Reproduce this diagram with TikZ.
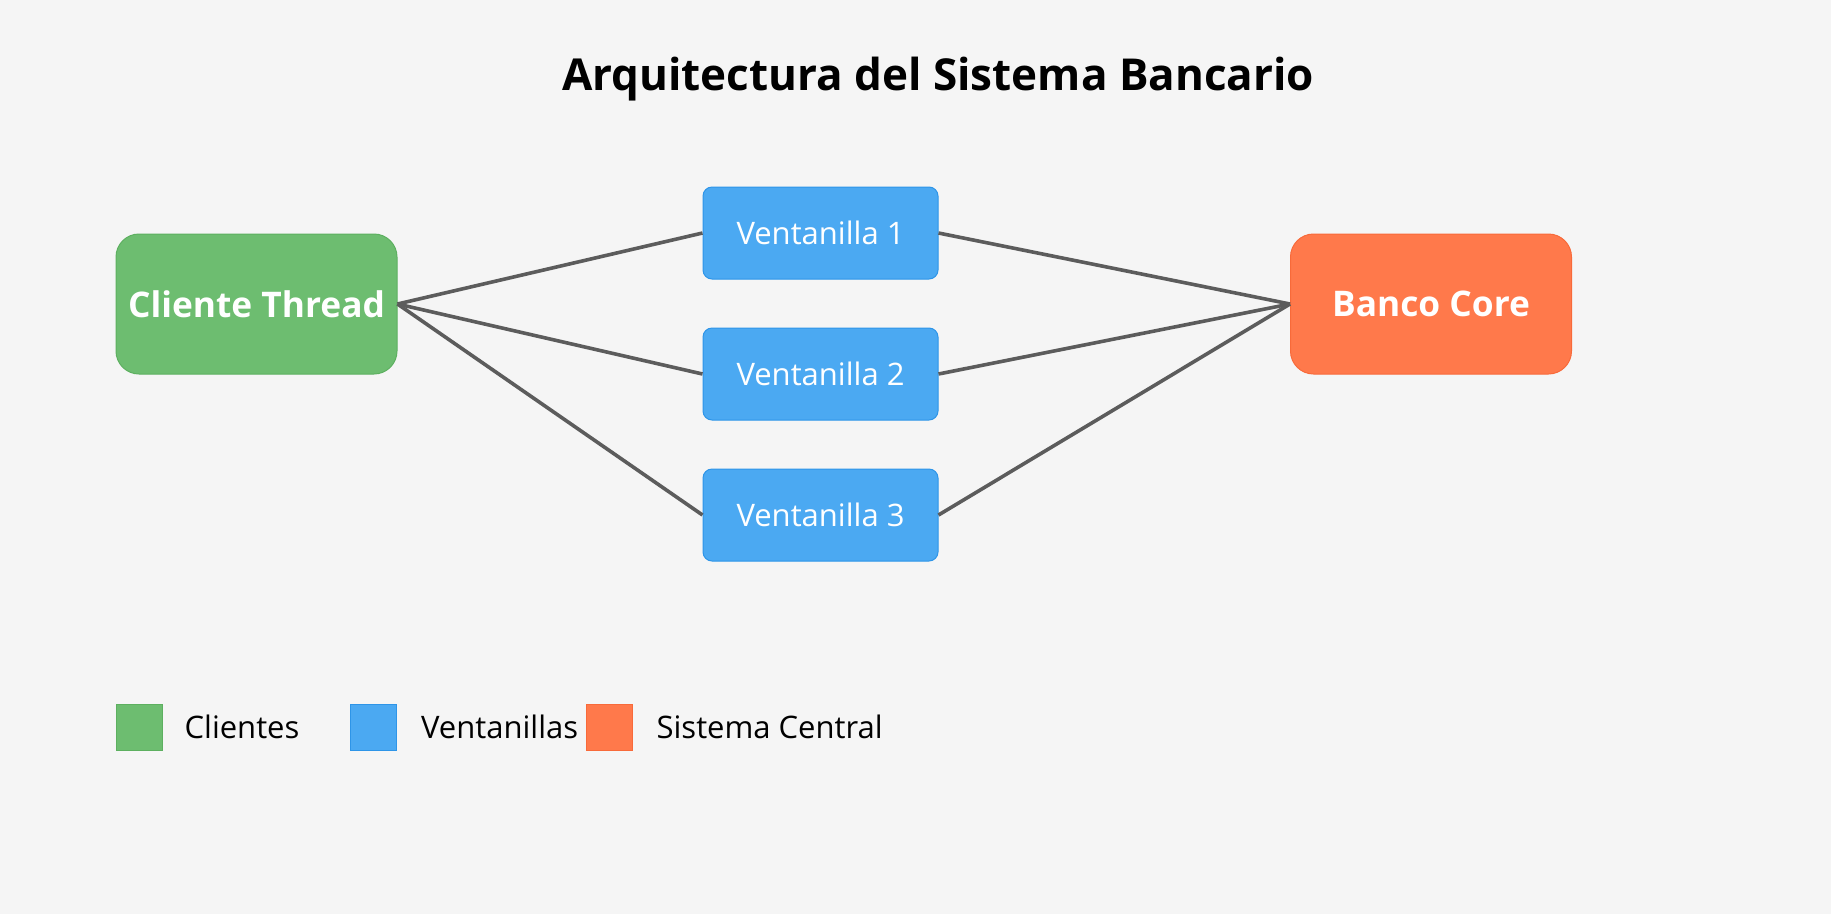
\documentclass[tikz,border=0pt]{standalone}
\usepackage{fontspec}
\setmainfont{Open Sans}
\usetikzlibrary{positioning}
\definecolor{bgColor}{HTML}{F5F5F5}
\definecolor{clientColor}{HTML}{6DBD70}
\definecolor{clientEdge}{HTML}{5DB060}
\definecolor{winColor}{HTML}{4BA9F2}
\definecolor{winEdge}{HTML}{2E95E8}
\definecolor{coreColor}{HTML}{FF794B}
\definecolor{coreEdge}{HTML}{F86A3A}
\definecolor{linkColor}{HTML}{5C5C5C}
\tikzset{
    bigbox/.style={
        draw,
        line width=1pt,
        rounded corners=23pt,
        minimum width=281pt,
        minimum height=140pt,
        inner sep=0pt,
        text=white,
        font=\fontsize{35.3}{40}\selectfont\bfseries
    },
    winbox/.style={
        draw=winEdge,
        fill=winColor,
        line width=1pt,
        rounded corners=9pt,
        minimum width=235pt,
        minimum height=92pt,
        inner sep=0pt,
        text=white,
        font=\fontsize{31}{36}\selectfont
    },
    link/.style={
        draw=linkColor,
        line width=3.6pt
    },
    keybox/.style={
        draw,
        line width=0.8pt,
        minimum size=46pt,
        inner sep=0pt
    },
    keytext/.style={
        anchor=west,
        inner sep=0pt,
        font=\fontsize{31}{36}\selectfont
    }
}
\begin{document}
\begin{tikzpicture}[x=1pt, y=-1pt]
    \fill[bgColor] (0,0) rectangle (1831,914);
    \useasboundingbox (0,0) rectangle (1831,914);

    \node[font=\fontsize{44}{52}\selectfont\bfseries] (title) at (938,79) {Arquitectura del Sistema Bancario};

    \node[bigbox, draw=clientEdge, fill=clientColor] (client) at (256.5,304) {Cliente Thread};
    \node[winbox] (win1) at (820.5,233) {Ventanilla 1};
    \node[winbox, below=48pt of win1] (win2) {Ventanilla 2};
    \node[winbox, below=48pt of win2] (win3) {Ventanilla 3};
    \node[bigbox, draw=coreEdge, fill=coreColor] (core) at (1431,304) {Banco Core};

    % Links
    \foreach \w in {win1, win2, win3} {
        \draw[link] (client.east) -- (\w.west);
        \draw[link] (\w.east) -- (core.west);
    }

    % Legend
    \node[keybox, draw=clientEdge, fill=clientColor] (keyClient) at (139,727) {};
    \node[keytext, right=22pt of keyClient] (txtClient) {Clientes};
    \node[keybox, draw=winEdge, fill=winColor] (keyWin) at (373.5,727) {};
    \node[keytext, right=24pt of keyWin] (txtWin) {Ventanillas};
    \node[keybox, draw=coreEdge, fill=coreColor] (keyCore) at (609,727) {};
    \node[keytext, right=24pt of keyCore] (txtCore) {Sistema Central};
\end{tikzpicture}
\end{document}
